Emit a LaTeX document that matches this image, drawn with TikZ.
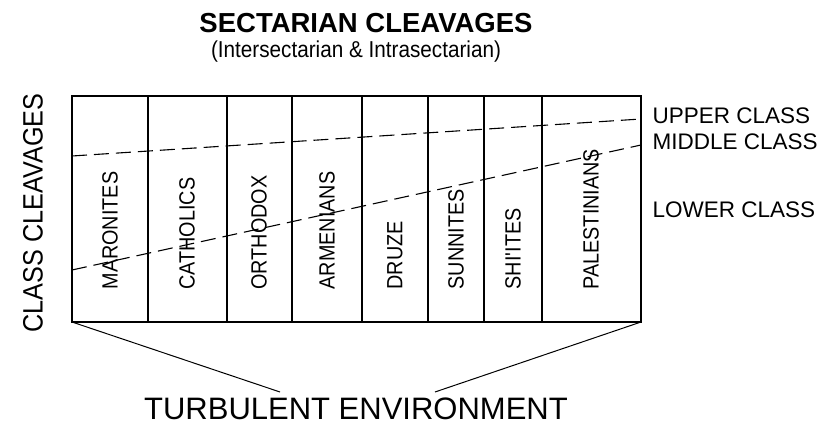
\documentclass[tikz,border=0pt]{standalone}
\usepackage{fontspec}
\setmainfont{Liberation Sans}
\newfontfamily\narrowsf[FakeStretch=0.9]{Liberation Sans}

\begin{document}
\begin{tikzpicture}[x=1pt, y=-1pt, line width=1.1pt,
    sect/.style={rotate=90, anchor=west, inner sep=0pt, font=\narrowsf\fontsize{22}{22}\selectfont},
    cls/.style={anchor=west, inner sep=0pt, font=\fontsize{22.5}{22.5}\selectfont},
    cut/.style={dash pattern=on 15pt off 7pt, line width=1.1pt}]
  \useasboundingbox (0,0) rectangle (826,430);

  \node[font=\bfseries\fontsize{27.5}{27.5}\selectfont] (title) at (366,23) {SECTARIAN CLEAVAGES};
  \node[font=\narrowsf\fontsize{23}{23}\selectfont] (subtitle) at (356,52) {(Intersectarian \& Intrasectarian)};
  \node[rotate=90, font=\narrowsf\fontsize{28}{28}\selectfont] (classes) at (33,213) {CLASS CLEAVAGES};

  \coordinate (tl) at (72,96);
  \coordinate (tr) at (641,96);
  \coordinate (bl) at (72,322);
  \coordinate (br) at (641,322);
  \draw (tl) rectangle (br);

  \foreach \x in {148,227,292,362,428,484,542}
    \draw (\x,96) -- (\x,322);

  \foreach \x/\sect in {110/MARONITES, 187/CATHOLICS, 259/ORTHODOX, 327/ARMENIANS,
      395/DRUZE, 456/SUNNITES, 513/SHI\textquotesingle ITES, 591/PALESTINIANS}
    \node[sect] (s-\x) at (\x,290) {\sect};

  \coordinate (upper-l) at (72,156);
  \coordinate (upper-r) at (641,119);
  \coordinate (lower-l) at (72,270);
  \coordinate (lower-r) at (641,145);
  \draw[cut] (upper-l) -- (upper-r);
  \draw[cut] (lower-l) -- (lower-r);

  \node[cls] (upper) at (652,116) {UPPER CLASS};
  \node[cls] (middle) at (652,142) {MIDDLE CLASS};
  \node[cls] (lower) at (652,210) {LOWER CLASS};

  \node[font=\fontsize{31}{31}\selectfont] (env) at (356,409) {TURBULENT ENVIRONMENT};
  \coordinate (env-l) at (280,392);
  \coordinate (env-r) at (435,392);
  \draw[line width=1pt] (bl) -- (env-l);
  \draw[line width=1pt] (br) -- (env-r);
  % \draw (env.north west) -- (env.north east);
\end{tikzpicture}
\end{document}
